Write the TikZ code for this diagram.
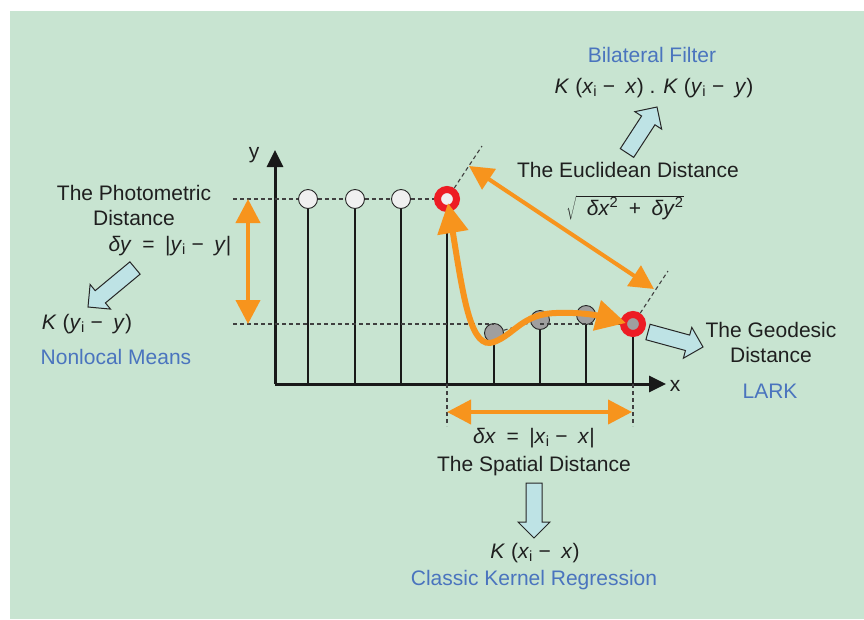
\documentclass[tikz,border=0pt]{standalone}
\usepackage{fontspec}
\setmainfont{Liberation Sans}
\usetikzlibrary{arrows.meta, calc, bending}
\definecolor{bgreen}{RGB}{200,228,209}
\definecolor{korange}{RGB}{247,148,29}
\definecolor{kred}{RGB}{237,28,36}
\definecolor{kblue}{RGB}{74,116,190}
\definecolor{kcyan}{RGB}{190,227,229}
\tikzset{
    axis/.style={line width=3pt, black!90, -{Triangle[length=17pt,width=16pt]}},
    stem/.style={line width=2pt, black!90},
    guide/.style={dash pattern=on 4pt off 3pt, line width=1.1pt, black!75},
    sample/.style={circle, draw=black!85, line width=0.9pt, minimum size=19pt, inner sep=0pt},
    lit/.style={sample, fill=gray!12},
    dim/.style={sample, fill=gray!75},
    ring/.style={circle, draw=kred, line width=7pt, minimum size=19pt, inner sep=0pt},
    dist/.style={draw=korange, line width=4pt, {Triangle[length=24pt,width=24pt]}-{Triangle[length=24pt,width=24pt]}},
    geo/.style={draw=korange, line width=6pt, {Triangle[length=30pt,width=30pt]}-{Triangle[length=30pt,width=30pt]}},
    lbl/.style={font=\fontsize{21}{25}\selectfont, text=black!88, inner sep=0pt, align=center},
    meth/.style={lbl, text=kblue},
    blk/.style={draw=black!85, fill=kcyan, line width=1pt, line join=miter}
}
% block arrow from #1 (tail) to #2 (tip)
\newcommand\kernarrow[2]{%
    \coordinate (kh) at ($(#2)!16pt!(#1)$);
    \draw[blk] ($(#1)!8pt!90:(#2)$) -- ($(kh)!8pt!90:(#2)$) -- ($(kh)!16pt!90:(#2)$)
        -- (#2) -- ($(kh)!16pt!-90:(#2)$) -- ($(kh)!8pt!-90:(#2)$) -- ($(#1)!8pt!-90:(#2)$) -- cycle;
}
\newcommand\vi[1]{\textit{#1}}
\newcommand\sub[1]{\textsubscript{#1}}

\begin{document}
\begin{tikzpicture}[x=1pt, y=-1pt]
    \useasboundingbox (0,0) rectangle (864,619);
    \fill[bgreen] (10,11) rectangle (864,619);

    % Ejes
    \coordinate (o) at (275,384);
    \draw[axis] (o) -- (275,150) coordinate (ytip);
    \draw[axis] (o) -- (666,384) coordinate (xtip);
    \node[lbl] (ylab) at (254,155) {y};
    \node[lbl] (xlab) at (675,386) {x};

    % Muestras
    \foreach \i/\x in {1/308, 2/355, 3/401} {
        \node[lit] (t\i) at (\x,199) {};
        \draw[stem] (t\i) -- (t\i |- o);
    }
    \foreach \i/\x/\y in {1/494/333, 2/540/320, 3/586/315} {
        \node[dim] (b\i) at (\x,\y) {};
        \draw[stem] (b\i) -- (b\i |- o);
    }
    \node[ring, fill=gray!12] (r1) at (447,199) {};
    \node[ring, fill=gray!75] (r2) at (633,324) {};
    \draw[stem] (r1) -- (r1 |- o);
    \draw[stem] (r2) -- (r2 |- o);

    % Lineas guia
    \draw[guide] (233,199) -- (t1);
    \draw[guide] (t1) -- (t2);
    \draw[guide] (t2) -- (t3);
    \draw[guide] (t3) -- (r1);
    \draw[guide] (233,324) -- (b1 |- r2);
    \draw[guide] (b1) -- (b2);
    \draw[guide] (b2 |- r2) -- (r2);
    \draw[guide] (r1) -- ++(35,-53);
    \draw[guide] (r2) -- ++(35,-53);
    \draw[guide] (r1 |- o) -- ++(0,42) coordinate (sx1);
    \draw[guide] (r2 |- o) -- ++(0,42) coordinate (sx2);

    % Distancias
    \draw[dist] (248,199) -- (248,324);
    \draw[dist] (447,412) -- (632,412);
    \coordinate (e1) at (469,166);
    \coordinate (e2) at (654,289);
    \draw[dist] (e1) -- (e2);
    \draw[geo] (448,203) .. controls (462,285) and (468,352) .. (494,342)
        .. controls (515,334) and (522,314) .. (556,313)
        .. controls (586,312) and (606,316) .. (626,323);

    % Textos
    \node[meth] (bil) at (652,55) {Bilateral Filter};
    \node[lbl] (bilk) at (654,88) {\vi{K} (\vi{x}\sub{i} −\enspace\vi{x}) . \vi{K} (\vi{y}\sub{i} −\enspace\vi{y})};
    \node[lbl] (euc) at (628,170) {The Euclidean Distance};
    \node[lbl] (eucf) at (625,208) {$\sqrt{\mbox{\enspace\vi{δx}\textsuperscript{2}\enspace+\enspace\vi{δy}\textsuperscript{2}}}$};

    \node[lbl] (pho) at (134,205) {The Photometric\\Distance};
    \node[lbl] (phof) at (170,246) {\vi{δy}\enspace=\enspace|\vi{y}\sub{i} −\enspace\vi{y}|};
    \node[lbl] (phok) at (87,324) {\vi{K} (\vi{y}\sub{i} −\enspace\vi{y})};
    \node[meth] (nlm) at (116,357) {Nonlocal Means};

    \node[lbl] (geod) at (771,342) {The Geodesic\\Distance};
    \node[meth] (lark) at (770,391) {LARK};

    \node[lbl] (spaf) at (534,438) {\vi{δx}\enspace=\enspace|\vi{x}\sub{i} −\enspace\vi{x}|};
    \node[lbl] (spa) at (534,466) {The Spatial Distance};
    \node[lbl] (spak) at (535,553) {\vi{K} (\vi{x}\sub{i} −\enspace\vi{x})};
    \node[meth] (ckr) at (534,580) {Classic Kernel Regression};

    % Flechas de nucleo
    \coordinate (a1) at (627,153); \coordinate (a2) at (657,107);
    \kernarrow{a1}{a2}
    \coordinate (a3) at (135,268); \coordinate (a4) at (88,307);
    \kernarrow{a3}{a4}
    \coordinate (a5) at (648,332); \coordinate (a6) at (703,347);
    \kernarrow{a5}{a6}
    \coordinate (a7) at (534,483); \coordinate (a8) at (534,538);
    \kernarrow{a7}{a8}
\end{tikzpicture}
\end{document}
